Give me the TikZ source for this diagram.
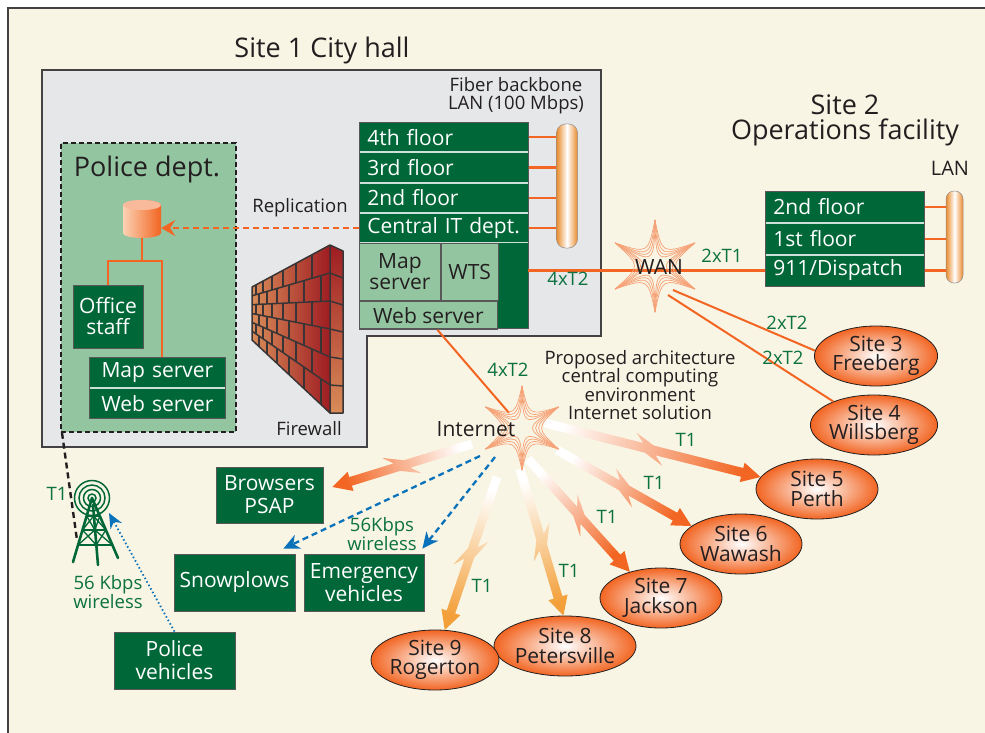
\documentclass[tikz,border=0pt]{standalone}
\usepackage{fontspec}
\setmainfont{Open Sans}
\usetikzlibrary{arrows.meta,shapes.geometric,calc,positioning}

\definecolor{cream}{HTML}{F9F5E4}
\definecolor{hallgray}{HTML}{E6E7E8}
\definecolor{dkgreen}{HTML}{006838}
\definecolor{ltgreen}{HTML}{94C5A1}
\definecolor{netorange}{HTML}{F26522}
\definecolor{amber}{HTML}{F3A03A}
\definecolor{lanorange}{HTML}{E98A2A}
\definecolor{sparkorange}{HTML}{F6A277}
\definecolor{lblgreen}{HTML}{0B7140}
\definecolor{wireblue}{HTML}{0A72BA}
\definecolor{ink}{HTML}{231F20}
\definecolor{brick}{HTML}{D98C58}
\definecolor{brickdark}{HTML}{9E1C22}
\definecolor{dbpale}{HTML}{FBD2B4}

\newcommand\boxfont{\fontsize{21}{22}\selectfont}
\newcommand\titlefont{\fontsize{27}{25}\selectfont}
\newcommand\sitefont{\fontsize{21}{19.5}\selectfont}
\newcommand\notefont{\fontsize{18.5}{18.5}\selectfont}

% lightning link: #1 tail, #2 head, #3 colour at the head
\newcommand\bolt[3]{%
  \path let \p1=($(#2)-(#1)$) in
    \pgfextra{\pgfmathsetmacro\bang{atan2(\y1,\x1)}\global\let\boltang\bang
      \pgfmathsetmacro\blen{veclen(\x1,\y1)}\global\let\boltlen\blen};
  \pgfmathsetmacro\boltshade{\boltang-90}
  \pgfmathsetmacro\ka{0.45*\boltlen}
  \pgfmathsetmacro\kb{\boltlen-19}
  \begin{scope}[shift={(#1)}, rotate=\boltang]
    \shade[bottom color=white, top color=#3, shading angle=\boltshade]
      (0,-4.5) -- (\ka,-4.5) -- ({\ka-9},-13) -- ({\ka+11},-4.5) -- (\kb,-4.5)
      -- (\kb,-10) -- (\boltlen,0) -- (\kb,10) -- (\kb,4.5) -- ({\ka+15},4.5)
      -- ({\ka+24},13) -- ({\ka+4},4.5) -- (0,4.5) -- cycle;
  \end{scope}
}

\begin{document}
\begin{tikzpicture}[x=1pt, y=-1pt,
  floor/.style={draw=white!80!dkgreen, line width=0.8pt, fill=dkgreen, text=white,
    minimum height=29.5pt, text width=#1, align=left, inner xsep=8pt, inner ysep=0pt,
    font=\boxfont},
  floor/.default=153pt,
  cell/.style={draw=ink!75, line width=0.8pt, fill=ltgreen, text=ink, align=center,
    inner sep=0pt, font=\boxfont},
  gbox/.style={draw=ink!75, line width=0.8pt, fill=dkgreen, text=white, align=center,
    inner sep=0pt, font=\boxfont},
  site/.style={ellipse, draw=ink, line width=0.8pt, inner color=white, outer color=netorange,
    minimum width=122pt, minimum height=60pt, inner sep=0pt, align=center, text=ink,
    font=\sitefont},
  capsule/.style={rounded corners=9pt, draw=ink!50, line width=0.5pt, left color=lanorange,
    right color=lanorange, middle color=white, inner sep=0pt},
  orline/.style={netorange, line width=2.4pt},
  title/.style={text=ink, font=\titlefont, align=center},
  note/.style={text=ink, font=\notefont, align=center},
  lbl/.style={text=lblgreen, font=\notefont, align=center},
  spark/.style={sparkorange, line width=0.7pt},
  mortar/.style={draw=ink!90, line width=1.5pt, line join=round},
  repl/.style={netorange, line width=2.2pt, dash pattern=on 6pt off 4pt,
    -{Stealth[length=14pt,width=16pt,inset=5pt]}},
  wire/.style={wireblue, line width=2.3pt, dash pattern=on 6pt off 4pt,
    -{Stealth[length=16pt,width=15pt,inset=5pt]}},
  radio/.style={wireblue, line width=1.8pt, dash pattern=on 1.5pt off 2.5pt,
    -{Stealth[length=15pt,width=13pt,inset=5pt]}},
  tline/.style={ink, line width=2.4pt, dash pattern=on 6pt off 4pt},
  mast/.style={dkgreen, line width=2.6pt, line cap=round}
]
\useasboundingbox (0,0) rectangle (985,733);
\fill[white] (0,0) rectangle (985,733);
\draw[ink!85, line width=2pt, fill=cream] (8,8) rectangle (1000,750);

% ---- Site 1: city hall
\draw[ink!85, line width=2pt, fill=hallgray]
  (42,70) -- (601,70) -- (601,336) -- (367,336) -- (367,447) -- (42,447) -- cycle;
\node[title] (hall) at (322,50) {Site 1 City hall};
\node[note, font=\fontsize{18.5}{18}\selectfont] (fiber) at (516,96)
  {Fiber backbone\\LAN (100 Mbps)};

% floors and central IT
\node[floor, anchor=north west] (f4) at (359,122) {4th floor};
\node[floor, below=0pt of f4] (f3) {3rd floor};
\node[floor, below=0pt of f3] (f2) {2nd floor};
\node[floor, below=0pt of f2] (fit) {Central IT dept.};
\node[fill=dkgreen, minimum width=169pt, minimum height=85pt, inner sep=0pt,
  anchor=north west] (itcore) at (fit.south west) {};
\node[cell, minimum width=81pt, minimum height=57pt, anchor=north west] (mapsrv)
  at (itcore.north west) {Map\\[-1pt]server};
\node[cell, minimum width=57pt, minimum height=57pt, right=0pt of mapsrv] (wts) {WTS};
\node[cell, minimum width=138pt, minimum height=28pt, anchor=north west] (websrv)
  at (mapsrv.south west) {Web server};
\draw[ink!75, line width=0.8pt] (f4.north west) rectangle (itcore.south east);

\node[capsule, minimum width=21pt, minimum height=124pt] (lan1) at (567,186) {};
\foreach \f in {f4,f3,f2,fit}
  \draw[orline] (\f.east) -- (\f.east -| lan1.west);

% police department
\node[draw=ink, line width=1.8pt, dash pattern=on 5pt off 3pt, fill=ltgreen,
  minimum width=175pt, minimum height=289pt, anchor=north west] (police) at (60,142) {};
\node[title] (ptitle) at (147,169) {Police dept.};
\node[minimum width=38pt, minimum height=38pt, inner sep=0pt] (db) at (142,219) {};
\shade[left color=dbpale, right color=netorange]
  (123,205) -- (123,233) arc[start angle=180, end angle=0, x radius=19, y radius=5]
  -- (161,205) arc[start angle=0, end angle=-180, x radius=19, y radius=5] -- cycle;
\fill[netorange!45!white] (142,205) ellipse[x radius=19, y radius=5];
\node[gbox, minimum width=70pt, minimum height=63pt] (office) at (108,316.5)
  {Office\\[-1pt]staff};
\node[floor=120pt, minimum height=30pt, align=center, anchor=north west] (pmap)
  at (89,357) {Map server};
\node[floor=120pt, minimum height=30pt, align=center, below=0pt of pmap] (pweb)
  {Web server};
\draw[ink!75, line width=0.8pt] (pmap.north west) rectangle (pweb.south east);
\coordinate (jr) at (162,261);
\draw[orline] (db.south) -- (db.south |- jr);
\draw[orline] (office.north) |- (jr) -- (jr |- pmap.north);
\draw[repl] (fit.west) -- (fit.west -| db.east);
\node[note] (repltext) at (300,208) {Replication};

% firewall
\shade[left color=brick, right color=brickdark]
  (252,287) -- (330,245) -- (330,413) -- (252,340) -- cycle;
\shade[top color=brickdark, bottom color=brick]
  (330,245) -- (343,251) -- (343,413) -- (330,413) -- cycle;
\foreach \i in {1,...,5}
  \draw[mortar] ($(252,287)!\i/6!(252,340)$) -- ($(330,245)!\i/6!(330,413)$)
    -- ($(343,251)!\i/6!(343,413)$);
\foreach \i in {0,...,5} {
  \pgfmathtruncatemacro\odd{mod(\i,2)}
  \ifnum\odd=0 \def\joints{312,296,283,272,263,256}
  \else \def\joints{321,304,289,277,267,259}\fi
  \foreach \jx in \joints {
    \pgfmathsetmacro\f{(\jx-252)/78}
    \pgfmathsetmacro\ytop{287+53*\i/6+\f*(245+168*\i/6-287-53*\i/6)}
    \pgfmathsetmacro\ybot{287+53*(\i+1)/6+\f*(245+168*(\i+1)/6-287-53*(\i+1)/6)}
    \draw[mortar] (\jx,\ytop) -- (\jx,\ybot);
  }
}
\draw[mortar] (252,287) -- (330,245) -- (343,251) -- (343,413) -- (330,413)
  -- (252,340) -- cycle (330,245) -- (330,413);
\node[note] (fwtext) at (309,429) {Firewall};

% ---- Site 2: operations facility
\node[title] (ops) at (845,120) {Site 2\\Operations facility};
\node[note, font=\fontsize{20}{20}\selectfont] (lantext) at (950,168) {LAN};
\node[floor=143pt, minimum height=31pt, anchor=north west] (s2f2) at (765,191) {2nd floor};
\node[floor=143pt, minimum height=31pt, below=0pt of s2f2] (s2f1) {1st floor};
\node[floor=143pt, minimum height=31pt, below=0pt of s2f1] (disp) {911/Dispatch};
\draw[ink!75, line width=0.8pt] (s2f2.north west) rectangle (disp.south east);
\node[capsule, minimum width=17pt, minimum height=92pt, rounded corners=8pt] (lan2)
  at (954.5,237) {};
\foreach \f in {s2f2,s2f1,disp}
  \draw[orline] (\f.east) -- (\f.east -| lan2.west);

% ---- WAN links
\coordinate (wanc) at (655,266);
\draw[orline] (itcore.east |- disp.west) -- (disp.west);
\coordinate (w3) at ($(wanc)+(18,24)$);
\coordinate (w4) at ($(wanc)+(13,29)$);
\node[site] (s3) at (876,356) {Site 3\\Freeberg};
\node[site] (s4) at (874,425) {Site 4\\Willsberg};
\draw[orline, line width=2pt] (w3) -- (s3.175);
\draw[orline, line width=2pt] (w4) -- (s4.150);
\foreach \a in {30,90,...,330}
  \foreach \r in {2,6,10,14}
    \draw[spark] ($(wanc)+(\a:46)$) .. controls ($(wanc)+({\a+30}:\r)$)
      .. ($(wanc)+({\a+60}:46)$);
\node[text=ink, font=\fontsize{21}{21}\selectfont] (wan) at (659,267) {WAN};
\node[lbl] at (568,279) {4xT2};
\node[lbl] at (722,256) {2xT1};
\node[lbl] at (787,323) {2xT2};
\node[lbl] at (783,358) {2xT2};

% ---- Internet side
\coordinate (inetc) at (522,428);
\coordinate (webout) at ($(websrv.south)+(9,0)$);
\draw[orline, line width=2pt, shorten >=20pt] (webout) -- (inetc);
\node[lbl] at (508,370) {4xT2};
\node[note] (proposal) at (640,385)
  {Proposed architecture\\central computing\\environment\\Internet solution};

\node[site] (s5) at (817,489) {Site 5\\Perth};
\node[site] (s6) at (741,544) {Site 6\\Wawash};
\node[site] (s7) at (661,598) {Site 7\\Jackson};
\node[site] (s8) at (565,646) {Site 8\\Petersville};
\node[site] (s9) at (435,660) {Site 9\\Rogerton};

\node[gbox, minimum width=107pt, minimum height=56pt] (psap) at (269.5,495)
  {Browsers\\[1pt]PSAP};
\node[gbox, minimum width=121pt, minimum height=57pt] (snow) at (234.5,582.5)
  {Snowplows};
\node[gbox, minimum width=120pt, minimum height=57pt] (emerg) at (364,582.5)
  {Emergency\\[1pt]vehicles};
\node[gbox, minimum width=121pt, minimum height=57pt] (pveh) at (174.5,660.5)
  {Police\\[1pt]vehicles};

\coordinate (b5) at ($(inetc)+(23,-5)$);
\coordinate (b6) at ($(inetc)+(35,22)$);
\coordinate (b7) at ($(inetc)+(6,31)$);
\coordinate (b8) at ($(inetc)+(-2,41)$);
\coordinate (b9) at ($(inetc)+(-25,49)$);
\coordinate (bp) at ($(inetc)+(-50,16)$);
\bolt{b5}{s5.168}{netorange}
\bolt{b6}{s6.160}{netorange}
\bolt{b7}{s7.140}{netorange}
\bolt{b8}{s8.93}{amber}
\bolt{b9}{s9.72}{amber}
\bolt{bp}{$(psap.east)+(9,-8)$}{netorange}

\foreach \a in {30,90,...,330}
  \foreach \r in {2,6,10,14}
    \draw[spark] ($(inetc)+(\a:42)$) .. controls ($(inetc)+({\a+30}:\r)$)
      .. ($(inetc)+({\a+60}:42)$);
\node[text=ink, font=\fontsize{21}{21}\selectfont] (inet) at (476,429) {Internet};

\node[lbl] at (686,440) {T1};
\node[lbl] at (654,483) {T1};
\node[lbl] at (607,517) {T1};
\node[lbl] at (569,571) {T1};
\node[lbl] at (482,586) {T1};

% wireless links
\coordinate (ws) at ($(inetc)+(-42,28)$);
\coordinate (we) at ($(inetc)+(-27,29)$);
\draw[wire] (ws) -- ($(snow.north east)+(-12,-5)$);
\draw[wire] (we) -- ($(emerg.north east)+(-2,-5)$);
\node[lbl] at (382,534) {56Kbps\\wireless};

% radio tower
\coordinate (tower) at (92,530);
\foreach \r in {4,8.5,13,17.5}
  \draw[dkgreen, line width=1.5pt] (92,498) circle[radius=\r];
\draw[mast] (92,498) -- (73,562);
\draw[mast] (92,498) -- (118,558);
\draw[mast] (93,505) -- (98,565);
\foreach \ya/\yb in {516/530, 530/545} {
  \pgfmathsetmacro\la{92-19*(\ya-498)/64}
  \pgfmathsetmacro\lb{92-19*(\yb-498)/64}
  \pgfmathsetmacro\ma{92+6*(\ya-498)/67}
  \pgfmathsetmacro\mb{92+6*(\yb-498)/67}
  \pgfmathsetmacro\ra{92+26*(\ya-498)/60}
  \pgfmathsetmacro\rb{92+26*(\yb-498)/60}
  \draw[dkgreen, line width=1.3pt] (\la,\ya) -- (\mb,\yb) (\ma,\ya) -- (\lb,\yb)
    (\ma,\ya) -- (\rb,\yb) (\ra,\ya) -- (\mb,\yb);
}
\foreach \y in {516,530,545} {
  \pgfmathsetmacro\la{92-19*(\y-498)/64}
  \pgfmathsetmacro\ra{92+26*(\y-498)/60}
  \draw[dkgreen, line width=1.8pt] (\la,\y) -- (\ra,\y);
}
\draw[tline] ($(police.south west)+(2,0)$) -- ($(tower)+(-15,10)$);
\node[lbl] at (57,494) {T1};
\draw[radio] (pveh.north) -- ($(tower)+(17,-17)$);
\node[lbl] at (108,592) {56 Kbps\\wireless};
\end{tikzpicture}
\end{document}
